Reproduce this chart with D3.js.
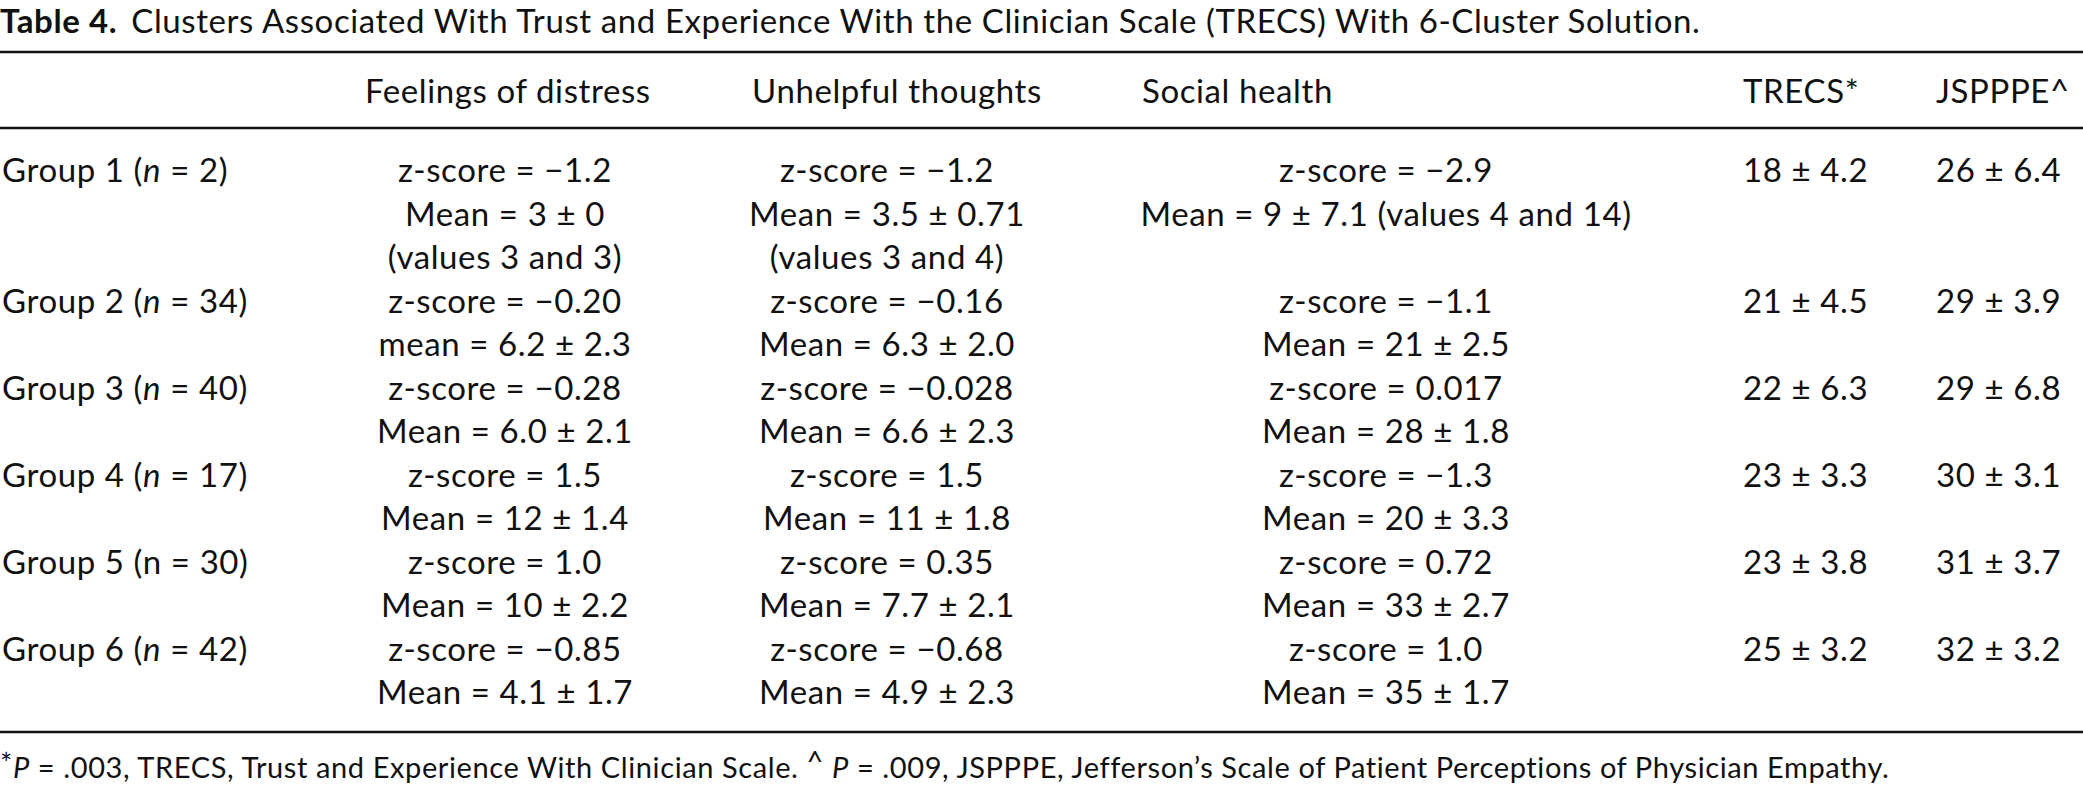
<!DOCTYPE html>
<meta charset="utf-8">
<head>
    <title>Table 4</title>
    <script src="https://cdn.jsdelivr.net/npm/d3@7/dist/d3.min.js"></script>
</head>
<style>
    body { margin: 0; background: #fff; }
    text { font-family: Lato, "Open Sans", sans-serif; font-size: 33px; letter-spacing: 0.6px; fill: #111; }
    text.foot { font-size: 29px; }
    .rule { stroke: #111; stroke-width: 2.7px; }
</style>
<svg></svg>
<script>
    var vWidth = 2083;
    var vHeight = 788;

    // table contents
    var groupNames = ["Group 1", "Group 2", "Group 3", "Group 4", "Group 5", "Group 6"];
    var groupN = [2, 34, 40, 17, 30, 42];
    var nItalic = [true, true, true, true, false, true];
    var headers = ["Feelings of distress", "Unhelpful thoughts", "Social health", "TRECS*", "JSPPPE^"];

    var distressZ = ["\u22121.2", "\u22120.20", "\u22120.28", "1.5", "1.0", "\u22120.85"];
    var distressMean = [["Mean", "3 \u00b1 0"], ["mean", "6.2 \u00b1 2.3"], ["Mean", "6.0 \u00b1 2.1"],
        ["Mean", "12 \u00b1 1.4"], ["Mean", "10 \u00b1 2.2"], ["Mean", "4.1 \u00b1 1.7"]];
    var distressExtra = ["(values 3 and 3)", null, null, null, null, null];

    var thoughtsZ = ["\u22121.2", "\u22120.16", "\u22120.028", "1.5", "0.35", "\u22120.68"];
    var thoughtsMean = [["Mean", "3.5 \u00b1 0.71"], ["Mean", "6.3 \u00b1 2.0"], ["Mean", "6.6 \u00b1 2.3"],
        ["Mean", "11 \u00b1 1.8"], ["Mean", "7.7 \u00b1 2.1"], ["Mean", "4.9 \u00b1 2.3"]];
    var thoughtsExtra = ["(values 3 and 4)", null, null, null, null, null];

    var socialZ = ["\u22122.9", "\u22121.1", "0.017", "\u22121.3", "0.72", "1.0"];
    var socialMean = [["Mean", "9 \u00b1 7.1 (values 4 and 14)"], ["Mean", "21 \u00b1 2.5"], ["Mean", "28 \u00b1 1.8"],
        ["Mean", "20 \u00b1 3.3"], ["Mean", "33 \u00b1 2.7"], ["Mean", "35 \u00b1 1.7"]];

    var trecs = ["18 \u00b1 4.2", "21 \u00b1 4.5", "22 \u00b1 6.3", "23 \u00b1 3.3", "23 \u00b1 3.8", "25 \u00b1 3.2"];
    var jspppe = ["26 \u00b1 6.4", "29 \u00b1 3.9", "29 \u00b1 6.8", "30 \u00b1 3.1", "31 \u00b1 3.7", "32 \u00b1 3.2"];

    // lines used by each group (group 1 has an extra "(values ...)" line)
    var groupLines = groupNames.map(function (g, i) { return distressExtra[i] ? 3 : 2; });
    var groupStart = [];
    groupLines.reduce(function (acc, n, i) { groupStart[i] = acc; return acc + n; }, 0);
    var totalLines = d3.sum(groupLines);

    var svg = d3.select('svg').attr('width', vWidth).attr('height', vHeight);

    // vertical layout: body line index -> baseline
    var yLine = d3.scaleLinear().domain([0, totalLines - 1]).range([182, 704]);

    // column anchors
    var xCol = { label: 2, c1: 505, c2: 887, c3: 1386, h1: 365, h2: 752, h3: 1142, trecs: 1743, jsp: 1936 };

    // title
    var title = svg.append('text').attr('x', 0).attr('y', 33);
    title.append('tspan').attr('font-weight', 'bold').text('Table 4.');
    title.append('tspan').attr('dx', 14)
        .text('Clusters Associated With Trust and Experience With the Clinician Scale (TRECS) With 6-Cluster Solution.');

    // rules
    [52, 128, 732].forEach(function (y) {
        svg.append('line').attr('class', 'rule').attr('x1', 0).attr('x2', vWidth).attr('y1', y).attr('y2', y);
    });

    // header
    var hx = [xCol.h1, xCol.h2, xCol.h3, xCol.trecs, xCol.jsp];
    svg.selectAll('text.hdr').data(headers).enter().append('text')
        .attr('class', 'hdr')
        .attr('x', function (d, i) { return hx[i]; })
        .attr('y', 103)
        .text(function (d) { return d; });

    function eq(sel, left, right) {
        sel.append('tspan').text(left + ' = ' + right);
    }

    var rows = svg.selectAll('g.row').data(groupNames).enter().append('g').attr('class', 'row');

    rows.each(function (name, i) {
        var g = d3.select(this);
        var y0 = yLine(groupStart[i]);
        var y1 = yLine(groupStart[i] + 1);

        var lab = g.append('text').attr('x', xCol.label).attr('y', y0);
        lab.append('tspan').text(name + '  (');
        lab.append('tspan').attr('font-style', nItalic[i] ? 'italic' : 'normal').text('n');
        lab.append('tspan').text(' = ' + groupN[i] + ')');

        var cols = [
            { x: xCol.c1, z: distressZ[i], m: distressMean[i], e: distressExtra[i] },
            { x: xCol.c2, z: thoughtsZ[i], m: thoughtsMean[i], e: thoughtsExtra[i] },
            { x: xCol.c3, z: socialZ[i], m: socialMean[i], e: null }
        ];
        cols.forEach(function (c) {
            eq(g.append('text').attr('x', c.x).attr('y', y0).attr('text-anchor', 'middle'), 'z-score', c.z);
            eq(g.append('text').attr('x', c.x).attr('y', y1).attr('text-anchor', 'middle'), c.m[0], c.m[1]);
            if (c.e) {
                g.append('text').attr('x', c.x).attr('y', yLine(groupStart[i] + 2))
                    .attr('text-anchor', 'middle').text(c.e);
            }
        });

        g.append('text').attr('x', xCol.trecs).attr('y', y0).text(trecs[i]);
        g.append('text').attr('x', xCol.jsp).attr('y', y0).text(jspppe[i]);
    });

    // footnote
    var foot = svg.append('text').attr('class', 'foot').attr('x', 0).attr('y', 778);
    foot.append('tspan').attr('dy', -4).text('*');
    foot.append('tspan').attr('font-style', 'italic').attr('dy', 4).text('P');
    foot.append('tspan').text(' = .003, TRECS, Trust and Experience With Clinician Scale. ');
    foot.append('tspan').attr('dy', -6).text('^');
    foot.append('tspan').attr('font-style', 'italic').attr('dy', 6).attr('dx', 8).text('P');
    foot.append('tspan').text(' = .009, JSPPPE, Jefferson\u2019s Scale of Patient Perceptions of Physician Empathy.');
</script>
